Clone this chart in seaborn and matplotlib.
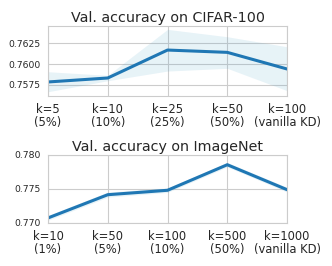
import matplotlib
matplotlib.use('Agg')
import matplotlib.pyplot as plt
import pandas as pd
import seaborn as sns

sns.set_style("whitegrid")

# CIFAR-100
cifar_labels = ['k=5\n(5%)', 'k=10\n(10%)', 'k=25\n(25%)', 'k=50\n(50%)', 'k=100\n(vanilla KD)']
cifar_mean = [0.75783, 0.75831, 0.76169, 0.76141, 0.75940]
cifar_low = [0.75665, 0.75798, 0.75915, 0.75948, 0.75678]
cifar_high = [0.75907, 0.75863, 0.76419, 0.76330, 0.76209]

# ImageNet
imnet_labels = ['k=10\n(1%)', 'k=50\n(5%)', 'k=100\n(10%)', 'k=500\n(50%)', 'k=1000\n(vanilla KD)']
imnet_mean = [0.77074, 0.77416, 0.77481, 0.77857, 0.77490]
imnet_low = [0.77040, 0.77380, 0.77450, 0.77825, 0.77455]
imnet_high = [0.77110, 0.77455, 0.77515, 0.77890, 0.77525]

fig = plt.figure(figsize=(3.32, 2.66), dpi=100)
ax1 = fig.add_axes([0.1446, 0.639, 0.72, 0.263])
ax2 = fig.add_axes([0.1446, 0.1617, 0.72, 0.2556])

def draw(ax, labels, mean, low, high, title):
    df = pd.DataFrame({'x': range(len(labels)), 'acc': mean})
    sns.lineplot(data=df, x='x', y='acc', ax=ax, color='#1f77b4', linewidth=2.2)
    ax.fill_between(df['x'], low, high, color='#4aa3c8', alpha=0.13, linewidth=0)
    ax.set_xticks(range(len(labels)))
    ax.set_xticklabels(labels, fontsize=8.3, linespacing=1.0)
    ax.tick_params(axis='y', labelsize=6.7, pad=2, labelcolor='#262626')
    ax.tick_params(axis='x', pad=1.5, labelcolor='#262626')
    ax.set_xlim(0, len(labels) - 1)
    ax.set_xlabel('')
    ax.set_ylabel('')
    ax.set_title(title, fontsize=10.3, pad=3, color='#262626')

draw(ax1, cifar_labels, cifar_mean, cifar_low, cifar_high, 'Val. accuracy on CIFAR-100')
ax1.set_ylim(0.75613, 0.76459)
ax1.set_yticks([0.7575, 0.7600, 0.7625])
ax1.set_yticklabels(['0.7575', '0.7600', '0.7625'])

draw(ax2, imnet_labels, imnet_mean, imnet_low, imnet_high, 'Val. accuracy on ImageNet')
ax2.set_ylim(0.770, 0.780)
ax2.set_yticks([0.770, 0.775, 0.780])
ax2.set_yticklabels(['0.770', '0.775', '0.780'])

plt.savefig('out.png', dpi=100)
